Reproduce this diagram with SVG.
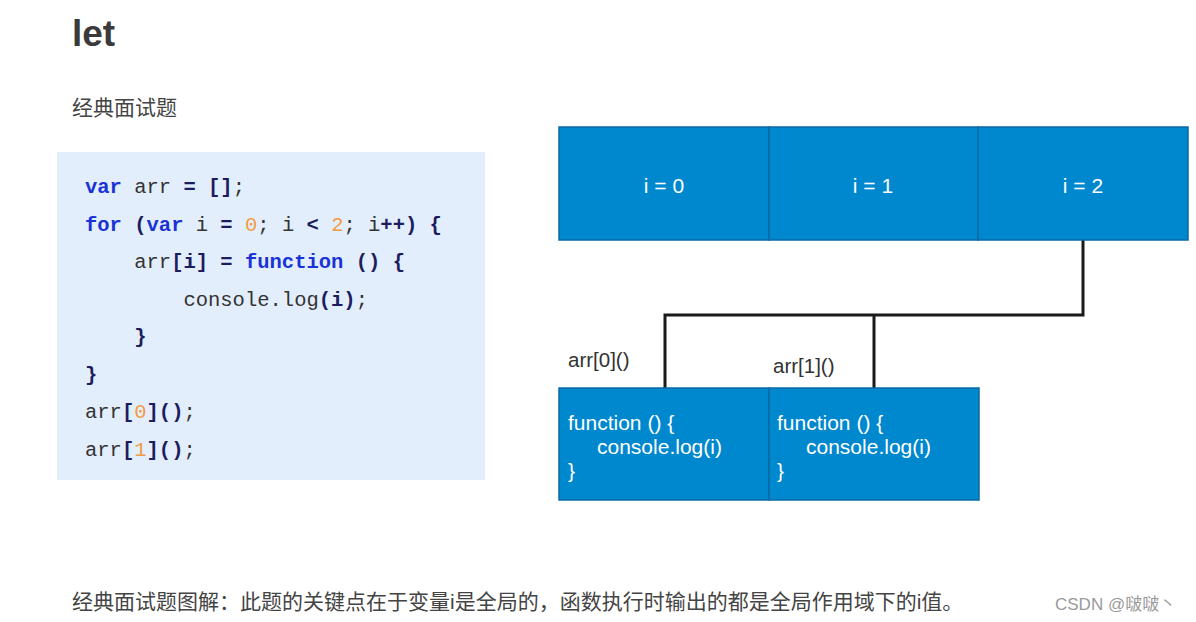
<svg xmlns="http://www.w3.org/2000/svg" width="1196" height="622" viewBox="0 0 1196 622">
<style>
.cn{font-family:"Liberation Sans","Noto Sans CJK SC",sans-serif;fill:#444}
.code{font-family:"Liberation Mono",monospace;font-size:20.5px;fill:#333;white-space:pre}
.k{fill:#1a33d6;font-weight:bold}
.p{fill:#1c1c5e;font-weight:bold}
.n{fill:#f29b45}
.box{fill:#0088cf;stroke:#0a6aa6;stroke-width:1.5}
.bt{font-family:"Liberation Sans",sans-serif;font-size:21px;fill:#fff}
.lbl{font-family:"Liberation Sans",sans-serif;font-size:20.5px;fill:#333}
.wire{fill:none;stroke:#1a1a1a;stroke-width:3}
</style>
<rect width="1196" height="622" fill="#fff"/>
<text x="72" y="46" style="font-family:'Liberation Sans','Noto Sans CJK SC',sans-serif;font-weight:bold;font-size:37px;fill:#3a3a3a">let</text>
<text class="cn" x="72" y="115" font-size="21">经典面试题</text>

<g id="code">
<rect x="57" y="152" width="428" height="328" fill="#e3eefc"/>
<text class="code" x="85" y="193"><tspan class="k">var</tspan> arr <tspan class="p">=</tspan> <tspan class="p">[]</tspan>;</text>
<text class="code" x="85" y="231"><tspan class="k">for</tspan> <tspan class="p">(</tspan><tspan class="k">var</tspan> i <tspan class="p">=</tspan> <tspan class="n">0</tspan>; i <tspan class="p">&lt;</tspan> <tspan class="n">2</tspan>; i<tspan class="p">++)</tspan> <tspan class="p">{</tspan></text>
<text class="code" x="85" y="268">    arr<tspan class="p">[i]</tspan> <tspan class="p">=</tspan> <tspan class="k">function</tspan> <tspan class="p">()</tspan> <tspan class="p">{</tspan></text>
<text class="code" x="85" y="306">        console.log<tspan class="p">(i)</tspan>;</text>
<text class="code" x="85" y="343">    <tspan class="p">}</tspan></text>
<text class="code" x="85" y="381"><tspan class="p">}</tspan></text>
<text class="code" x="85" y="418">arr<tspan class="p">[</tspan><tspan class="n">0</tspan><tspan class="p">]()</tspan>;</text>
<text class="code" x="85" y="456">arr<tspan class="p">[</tspan><tspan class="n">1</tspan><tspan class="p">]()</tspan>;</text>
</g>

<g id="connectors">
<polyline class="wire" points="1083,240 1083,315 665,315 665,388"/>
<line class="wire" x1="874" y1="315" x2="874" y2="388"/>
</g>

<g id="i0"><rect class="box" x="559" y="127" width="210" height="113"/><text class="bt" x="664" y="193" text-anchor="middle">i = 0</text></g>
<g id="i1"><rect class="box" x="769" y="127" width="209" height="113"/><text class="bt" x="873" y="193" text-anchor="middle">i = 1</text></g>
<g id="i2"><rect class="box" x="978" y="127" width="210" height="113"/><text class="bt" x="1083" y="193" text-anchor="middle">i = 2</text></g>

<g id="arr0label"><text class="lbl" x="568" y="367">arr[0]()</text></g>
<g id="arr1label"><text class="lbl" x="773" y="373">arr[1]()</text></g>

<g id="fn0"><rect class="box" x="559" y="388" width="210" height="112"/>
<text class="bt" x="568" y="430" font-size="20.5">function () {</text>
<text class="bt" x="597" y="454" font-size="20.5">console.log(i)</text>
<text class="bt" x="568" y="478" font-size="20.5">}</text></g>
<g id="fn1"><rect class="box" x="769" y="388" width="210" height="112"/>
<text class="bt" x="777" y="430" font-size="20.5">function () {</text>
<text class="bt" x="806" y="454" font-size="20.5">console.log(i)</text>
<text class="bt" x="777" y="478" font-size="20.5">}</text></g>

<text class="cn" x="72" y="609" font-size="21">经典面试题图解：此题的关键点在于变量i是全局的，函数执行时输出的都是全局作用域下的i值。</text>
<text x="1055" y="610" style="font-family:'Liberation Sans','Noto Sans CJK SC',sans-serif;font-size:17px;fill:#9a9a9a">CSDN @啵啵丶</text>
</svg>
